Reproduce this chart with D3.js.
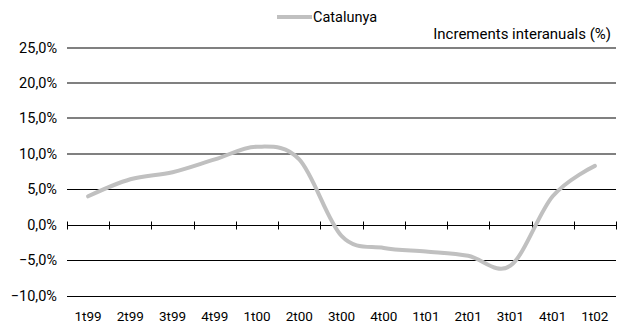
<!DOCTYPE html>
<html>
<head>
<meta charset="utf-8">
<script src="https://cdn.jsdelivr.net/npm/d3@7"></script>
<style>
  html, body { margin: 0; padding: 0; background: #fff; }
  svg { display: block; }
  text { font-family: Roboto, "Liberation Sans", sans-serif; fill: #000; }
</style>
</head>
<body>
<svg id="chart" width="627" height="327"></svg>
<script>
const categories = ["1t99","2t99","3t99","4t99","1t00","2t00","3t00","4t00","1t01","2t01","3t01","4t01","1t02"];
const catalunya = [4.0, 6.4, 7.4, 9.2, 11.0, 9.2, -1.6, -3.3, -3.8, -4.4, -5.8, 4.0, 8.3];
const yTicks = [-10, -5, 0, 5, 10, 15, 20, 25];
const seriesName = "Catalunya";
const axisTitle = "Increments interanuals (%)";

const svg = d3.select("#chart");
const x = d3.scaleBand().domain(categories).range([67, 616]).padding(0);
const y = d3.scaleLinear().domain([-10, 25]).range([295.5, 47.5]);
const fmt = v => d3.format(".1f")(v).replace(".", ",") + "%";

// gridlines
const grid = svg.append("g");
yTicks.filter(v => v !== 0).forEach(v => {
  const yy = Math.round(y(v));
  const upper = v >= 10;
  grid.append("line")
    .attr("x1", 67).attr("x2", 616)
    .attr("y1", upper ? yy : yy + 0.5).attr("y2", upper ? yy : yy + 0.5)
    .attr("stroke", upper ? "#808080" : "#000")
    .attr("stroke-width", upper ? 2 : 1);
});

// y labels
svg.append("g").selectAll("text").data(yTicks).join("text")
  .attr("x", 57).attr("y", d => y(d) + 5)
  .attr("text-anchor", "end")
  .attr("font-size", 14.5)
  .text(fmt);

// zero axis with ticks at band boundaries
const y0 = Math.round(y(0)) + 0.5;
const axis = svg.append("g");
axis.append("line").attr("x1", 67).attr("x2", 616).attr("y1", y0).attr("y2", y0)
  .attr("stroke", "#000").attr("stroke-width", 1);
const bounds = categories.map(c => x(c)).concat([x(categories[categories.length - 1]) + x.bandwidth()]);
axis.selectAll("line.tick").data(bounds).join("line").attr("class", "tick")
  .attr("x1", d => Math.round(d) + 0.5).attr("x2", d => Math.round(d) + 0.5)
  .attr("y1", y0 - 4).attr("y2", y0 + 4)
  .attr("stroke", "#000").attr("stroke-width", 1);

// x labels
svg.append("g").selectAll("text").data(categories).join("text")
  .attr("x", d => x(d) + x.bandwidth() / 2).attr("y", 321)
  .attr("text-anchor", "middle")
  .attr("font-size", 13.5)
  .text(d => d);

// line
const line = d3.line()
  .x((d, i) => x(categories[i]) + x.bandwidth() / 2)
  .y(d => y(d))
  .curve(d3.curveCardinal.tension(0));
svg.append("path").datum(catalunya)
  .attr("d", line)
  .attr("fill", "none")
  .attr("stroke", "#c0c0c0")
  .attr("stroke-width", 4)
  .attr("stroke-linejoin", "round")
  .attr("stroke-linecap", "round");

// legend
svg.append("line").attr("x1", 277).attr("x2", 312).attr("y1", 17).attr("y2", 17)
  .attr("stroke", "#c0c0c0").attr("stroke-width", 4);
svg.append("text").attr("x", 313).attr("y", 22).attr("font-size", 14.5).text(seriesName);

// axis title
svg.append("text").attr("x", 611).attr("y", 39).attr("text-anchor", "end")
  .attr("font-size", 15).text(axisTitle);
</script>
</body>
</html>
